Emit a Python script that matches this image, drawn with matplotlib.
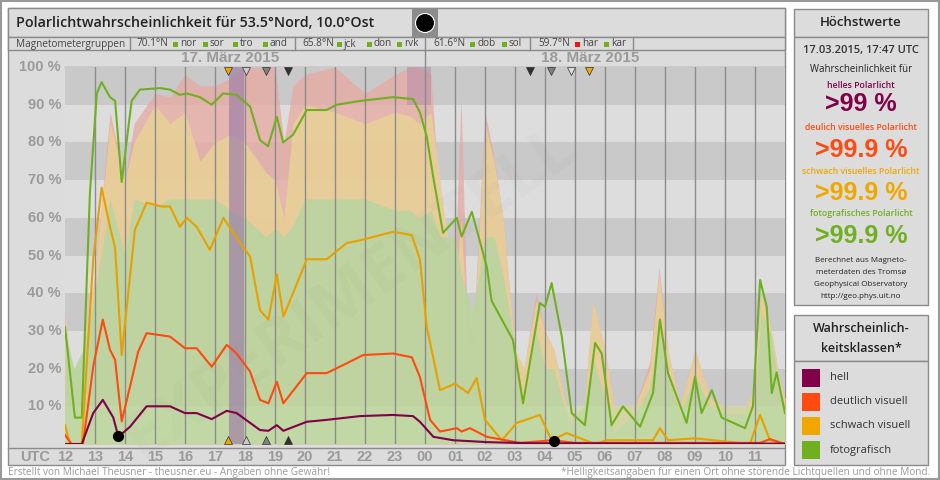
import matplotlib
matplotlib.use("Agg")
import matplotlib.pyplot as plt
from matplotlib.patches import Rectangle, Circle
import numpy as np

# hours since 17.03.2015 12:00 UTC
foto_t = [0, 0.33, 0.56, 0.83, 1.06, 1.22, 1.5, 1.67, 1.89, 2.22, 2.5, 3.17, 3.5, 3.83, 4.06, 4.5,
          4.89, 5.27, 5.72, 6.17, 6.5, 6.77, 7.06, 7.27, 7.6, 8.06, 8.72, 9.06, 9.83, 10.93, 11.6,
          11.83, 12.06, 12.27, 12.6, 13.06, 13.22, 13.56, 14.06, 14.22, 14.93, 15.27, 15.83, 16.0,
          16.22, 16.56, 16.89, 17.33, 17.67, 17.89, 18.22, 18.6, 19.17, 19.6, 19.83, 20.1, 20.72,
          21.0, 21.22, 21.56, 21.89, 22.67, 22.93, 23.17, 23.39, 23.56, 23.72, 24]
foto_v = [31, 7, 7, 66.5, 93, 96, 92, 91, 69.5, 91, 94, 94.4, 94, 92.6, 93, 92, 90, 93, 92.6, 89.5,
          80.6, 79, 86.8, 80, 82, 88.6, 88.6, 90, 91, 92, 91.5, 88, 81.5, 71, 56, 60, 55, 61.6, 47,
          38, 27.6, 10.8, 37.4, 36.4, 42.7, 28.5, 8.2, 5, 26.8, 24, 5, 10, 4.6, 13.5, 33, 18.8, 5.6,
          17.8, 8.2, 14.3, 7, 4.2, 10, 43.5, 36.4, 13.5, 19, 8.2]

schwach_t = [0, 0.17, 0.56, 0.94, 1.22, 1.5, 1.67, 1.89, 2.33, 2.72, 3.22, 3.5, 3.83, 4.06, 4.39,
             4.83, 5.28, 5.61, 6.17, 6.5, 6.78, 7.06, 7.28, 8.06, 8.72, 9.39, 9.83, 10.94, 11.56,
             11.83, 12.06, 12.5, 13.0, 13.44, 13.72, 14.0, 14.56, 15.06, 15.83, 16.22, 16.72,
             17.67, 18.06, 19.6, 19.83, 20.1, 21.0, 22.83, 23.17, 23.5, 24]
schwach_v = [5, 0, 0, 49, 68, 57.6, 52, 23.6, 56.8, 64, 63, 63, 57.6, 60, 57.6, 51.5, 60, 56, 49.7,
             35.5, 33, 45, 33.8, 49, 49, 53.3, 54, 56.3, 55.4, 49, 31, 14.3, 16, 13.5, 17.5, 6.4, 1,
             5.6, 7.7, 1, 2.9, 0, 1, 1, 4.2, 1, 1.5, 0, 7.7, 1, 0]

deutlich_t = [0, 0.22, 0.6, 0.94, 1.26, 1.5, 1.67, 1.89, 2.22, 2.44, 2.72, 3.5, 4.0, 4.39, 4.89,
              5.39, 5.72, 6.17, 6.5, 6.78, 7.06, 7.28, 8.06, 8.72, 9.39, 9.94, 10.94, 11.56, 11.83,
              12.17, 12.5, 13.06, 13.22, 13.5, 14.06, 15.17, 16.27, 17.0, 23.17, 23.5, 24]
deutlich_v = [2.4, 0, 0, 20.5, 33, 25, 22.3, 6, 17, 24.5, 29.4, 28.5, 25.4, 25.4, 20.5, 26.3, 24,
              19.2, 11.7, 10.8, 16.5, 10.8, 18.8, 18.8, 21.4, 23.6, 24, 23, 17.8, 6.4, 3.3, 4.2,
              3.3, 4.2, 1.9, 0.3, 1, 0.3, 0.3, 1.3, 0]

hell_t = [0, 0.56, 0.94, 1.26, 1.61, 1.78, 2.17, 2.72, 3.5, 4.0, 4.39, 4.89, 5.39, 5.72, 6.5, 6.78,
          7.06, 7.28, 8.06, 8.72, 9.83, 10.93, 11.6, 11.83, 12.28, 12.94, 14.06, 15.5, 24]
hell_v = [0, 0, 8.2, 11.7, 7, 1.9, 4.6, 10, 10, 8.2, 8.2, 6.6, 8.8, 8.2, 3.7, 3.5, 5, 3.5, 5.9, 6.4,
          7.4, 7.7, 7.4, 5.9, 1.9, 1, 0.5, 0.2, 0.1]

# background magnetometer activity (stacked areas)
bg_t = [0, 0.3, 0.6, 1.0, 1.5, 2.0, 2.3, 3, 3.5, 4, 4.5, 5, 5.5, 6, 6.7, 7, 7.3, 7.6, 8, 9, 10, 11,
        11.5, 11.8, 12.2, 12.5, 13, 13.2, 13.4, 13.6, 14.0, 14.3, 14.6, 15.0, 15.3, 15.7, 16.0,
        16.3, 16.8, 17.3, 17.6, 18.0, 18.3, 19.0, 19.5, 19.8, 20.1, 20.5, 21.0, 21.5, 22.0, 22.7,
        23.0, 23.2, 23.5, 23.8, 24]
green_top = [30, 20, 25, 40, 65, 50, 65, 63, 65, 65, 65, 65, 62, 60, 55, 57, 55, 58, 65, 65, 65,
             62, 62, 60, 62, 55, 55, 45, 40, 35, 55, 55, 45, 25, 10, 30, 20, 20, 5, 10, 23, 12, 3,
             8, 15, 30, 18, 8, 18, 10, 8, 8, 8, 35, 30, 15, 10]
yellow_top = [35, 10, 25, 45, 85, 70, 80, 90, 85, 88, 75, 80, 82, 80, 72, 70, 60, 85, 90, 88, 85,
              88, 87, 85, 88, 70, 40, 60, 30, 25, 85, 75, 60, 25, 20, 38, 30, 25, 7, 10, 38, 25,
              10, 10, 20, 45, 25, 10, 25, 12, 10, 10, 15, 40, 32, 18, 12]
pink_top = [35, 10, 25, 45, 88, 70, 85, 93, 92, 98, 95, 95, 97, 100, 100, 100, 80, 95, 98, 100, 93,
            98, 100, 100, 98, 62, 45, 92, 35, 28, 88, 76, 60, 25, 20, 40, 30, 25, 7, 10, 38, 25, 10,
            10, 22, 47, 25, 10, 25, 12, 10, 10, 15, 40, 32, 18, 12]

hours = ["12", "13", "14", "15", "16", "17", "18", "19", "20", "21", "22", "23",
         "00", "01", "02", "03", "04", "05", "06", "07", "08", "09", "10", "11"]
yticks = [10, 20, 30, 40, 50, 60, 70, 80, 90, 100]
tri_top = [(5.43, "#f0a800"), (6.03, "#cccccc"), (6.7, "#808080"), (7.43, "#303030"),
           (15.5, "#303030"), (16.2, "#808080"), (16.87, "#dddddd"), (17.47, "#f0a800")]
moon = [(1.77, 2.0), (16.3, 0.8)]

C_HELL, C_DEUT, C_SCHW, C_FOTO = "#80004a", "#ff4a10", "#f0a800", "#70b020"
GREY_TXT = "#9a9a9a"
PANEL = "#dcdcdc"
EDGE = "#8a8a8a"

plt.rcParams["font.family"] = ["Open Sans", "DejaVu Sans"]
fig = plt.figure(figsize=(9.4, 4.8), dpi=100)
fig.patch.set_facecolor("white")

bg = fig.add_axes([0, 0, 1, 1], zorder=0)
bg.set_xlim(0, 940); bg.set_ylim(480, 0); bg.axis("off")


def box(x0, y0, x1, y1, fc=PANEL, ec=EDGE, lw=1.0):
    bg.add_patch(Rectangle((x0, y0), x1 - x0, y1 - y0, fc=fc, ec=ec, lw=lw))


box(1, 1, 939, 479, fc="white", ec="#999999", lw=1.5)
# left chart frame
box(8, 8, 785, 465)
box(8, 8, 785, 37)
box(8, 37, 785, 50)
box(412, 9, 438, 37, fc="#8c8c8c", ec="none")
bg.add_patch(Circle((425, 23), 9.5, fc="black", ec="white", lw=0.8))
bg.text(16, 23, "Polarlichtwahrscheinlichkeit für 53.5°Nord, 10.0°Ost", fontsize=10.3,
        fontweight="semibold", va="center", color="#222222")

mag = [(16, "Magnetometergruppen", None), (137, "70.1°N", None), (173, "nor", C_FOTO),
       (203, "sor", C_FOTO), (233, "tro", C_FOTO), (263, "and", C_FOTO), (302, "65.8°N", None),
       (337, "jck", C_FOTO), (367, "don", C_FOTO), (397, "rvk", C_FOTO), (433, "61.6°N", None),
       (470, "dob", C_FOTO), (502, "sol", C_FOTO), (538, "59.7°N", None), (575, "har", "#ff1010"),
       (604, "kar", C_FOTO)]
for x, s, c in mag:
    if c is None:
        bg.text(x, 44, s, fontsize=7.2, va="center", color="#444444")
    else:
        bg.add_patch(Rectangle((x, 41.5), 5, 5, fc=c, ec="none"))
        bg.text(x + 7, 44, s, fontsize=7.2, va="center", color="#444444")
for x in [130, 295, 425, 530, 633]:
    bg.plot([x, x], [37, 50], color=EDGE, lw=1)

bg.text(230, 58, "17. März 2015", fontsize=11, fontweight="bold", color=GREY_TXT,
        ha="center", va="center", family="Liberation Sans")
bg.text(590, 58, "18. März 2015", fontsize=11, fontweight="bold", color=GREY_TXT,
        ha="center", va="center", family="Liberation Sans")
bg.plot([425, 425], [50, 67], color=EDGE, lw=1)
bg.plot([65, 785], [67, 67], color=EDGE, lw=1)
bg.plot([8, 785], [448, 448], color=EDGE, lw=1)

bg.text(8, 472, "Erstellt von Michael Theusner - theusner.eu - Angaben ohne Gewähr!",
        fontsize=7.2, color=GREY_TXT, va="center")
bg.text(930, 472, "*Helligkeitsangaben für einen Ort ohne störende Lichtquellen und ohne Mond.",
        fontsize=7.2, color=GREY_TXT, va="center", ha="right")

# right panels
box(794, 9, 928, 37)
box(794, 37, 928, 305)
bg.text(861, 23, "Höchstwerte", fontsize=9.5, fontweight="semibold", ha="center", va="center",
        color="#222222")
bg.text(861, 51, "17.03.2015, 17:47 UTC", fontsize=8, fontweight="semibold", ha="center",
        va="center", color="#333333")
bg.text(861, 70, "Wahrscheinlichkeit für", fontsize=7, ha="center", va="center", color="#222222")
vals = [(85, 104, "helles Polarlicht", ">99 %", C_HELL),
        (128, 150, "deulich visuelles Polarlicht", ">99.9 %", C_DEUT),
        (171, 193, "schwach visuelles Polarlicht", ">99.9 %", C_SCHW),
        (214, 236, "fotografisches Polarlicht", ">99.9 %", C_FOTO)]
for y1, y2, lab, v, c in vals:
    bg.text(861, y1, lab, fontsize=6.3, fontweight="semibold", ha="center", va="center", color=c)
    bg.text(861, y2, v, fontsize=18, fontweight="bold", ha="center", va="center", color=c,
            family="Liberation Sans")
for i, s in enumerate(["Berechnet aus Magneto-", "meterdaten des Tromsø",
                       "Geophysical Observatory", "http://geo.phys.uit.no"]):
    bg.text(861, 260 + i * 12, s, fontsize=5.8, ha="center", va="center", color="#222222")

box(794, 315, 928, 361)
box(794, 361, 928, 465)
bg.text(861, 329, "Wahrscheinlich-", fontsize=9, fontweight="semibold", ha="center",
        va="center", color="#222222")
bg.text(861, 348, "keitsklassen*", fontsize=9, fontweight="semibold", ha="center", va="center",
        color="#222222")
for i, (lab, c) in enumerate([("hell", C_HELL), ("deutlich visuell", C_DEUT),
                              ("schwach visuell", C_SCHW), ("fotografisch", C_FOTO)]):
    y = 378 + i * 24
    bg.add_patch(Rectangle((802, y - 9), 18, 18, fc=c, ec="none"))
    bg.text(830, y, lab, fontsize=8, va="center", color="#333333")

# y tick labels and x labels in the frame
for v in yticks:
    y = 444 - v * 3.77
    bg.text(61, y, f"{v} %", fontsize=10.5, fontweight="bold", color=GREY_TXT, ha="right",
            va="center", family="Liberation Sans")
bg.text(20, 457, "UTC", fontsize=10.5, fontweight="bold", color=GREY_TXT, va="center",
        family="Liberation Sans")
for i, h in enumerate(hours):
    bg.text(65 + 30 * i, 457, h, fontsize=10.5, fontweight="bold", color=GREY_TXT, ha="center",
            va="center", family="Liberation Sans")

# main plot
ax = fig.add_axes([65 / 940, (480 - 444) / 480, 720 / 940, (444 - 67) / 480], zorder=1)
ax.set_xlim(0, 24); ax.set_ylim(0, 100)
ax.axis("off")
for k in range(10):
    ax.axhspan(k * 10, k * 10 + 10, color="#c9c9c9" if k % 2 else "#dddddd", lw=0, zorder=0)

ax.fill_between(bg_t, 0, pink_top, color="#e8a8a0", alpha=0.75, lw=0, zorder=1)
ax.fill_between(bg_t, 0, yellow_top, color="#e8d098", alpha=0.9, lw=0, zorder=1)
ax.fill_between(bg_t, 0, green_top, color="#bcd4a0", alpha=0.95, lw=0, zorder=1)
ax.axhspan(0, 10, color="#c4dca8", alpha=0.6, lw=0, zorder=1)
ax.axvspan(5.45, 5.95, color="#a080a8", alpha=0.7, lw=0, zorder=1)
ax.fill_between([11.4, 12.2], 90, 100, color="#b890a8", alpha=0.6, lw=0, zorder=1)
ax.text(9.5, 40, "EXPERIMENTELL", fontsize=48, fontweight="bold", color="#888888", alpha=0.05,
        rotation=35, ha="center", va="center", zorder=2)

for h in range(1, 24):
    ax.axvline(h, color="#8c8c8c", lw=1, zorder=2)

ax.plot(foto_t, foto_v, color=C_FOTO, lw=1.5, zorder=3)
ax.plot(schwach_t, schwach_v, color="#e8a000", lw=1.5, zorder=4)
ax.plot(deutlich_t, deutlich_v, color=C_DEUT, lw=1.5, zorder=5)
ax.plot(hell_t, hell_v, color=C_HELL, lw=1.5, zorder=6)
for t, v in moon:
    ax.plot(t, v, "o", color="black", ms=7, zorder=7, clip_on=False)

for t, c in tri_top:
    ax.plot(t, 99, "v", color=c, mec="#333333", mew=0.5, ms=5.5, zorder=8, clip_on=False)
for t, c in tri_top[:4]:
    ax.plot(t, 1, "^", color=c, mec="#333333", mew=0.5, ms=5.5, zorder=8, clip_on=False)

fig.savefig("out.png", dpi=100)
